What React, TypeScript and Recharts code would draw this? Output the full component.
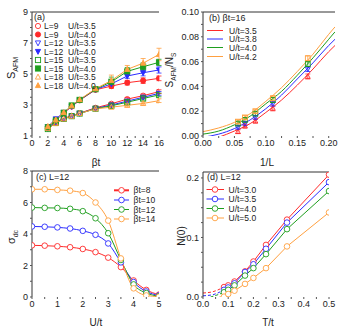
import React from 'react';
import { LineChart, Line, XAxis, YAxis, ReferenceLine, ErrorBar } from 'recharts';

const FONT = "'Liberation Sans', Arial, sans-serif";
const RED = '#ff2a2a';
const BLUE = '#2b2bff';
const GREEN = '#1e9e1e';
const ORANGE = '#ffa040';
const AX = '#333';

// ---------- panel (a) ----------
const betaT = [2, 3, 4, 5, 6, 8, 10, 12, 14, 16];
const aL9U35 = [1.5, 1.88, 2.14, 2.3, 2.47, 2.82, 3.08, 3.38, 3.6, 3.86];
const aL9U40 = [1.58, 2.05, 2.48, 2.9, 3.3, 3.98, 4.22, 4.44, 4.57, 4.72];
const aL12U35 = [1.48, 1.9, 2.12, 2.28, 2.46, 2.78, 3.0, 3.25, 3.5, 3.75];
const aL12U40 = [1.6, 2.1, 2.52, 2.9, 3.32, 4.0, 4.36, 4.87, 5.08, 5.26];
const aL15U35 = [1.45, 1.85, 2.1, 2.28, 2.45, 2.76, 2.95, 3.18, 3.42, 3.65];
const aL15U40 = [1.56, 2.0, 2.5, 2.97, 3.33, 4.02, 4.5, 5.17, 5.47, 5.75];
const aL18U35 = [1.5, 1.8, 2.1, 2.28, 2.46, 2.75, 2.86, 2.98, 3.1, 3.28];
const aL18U40 = [1.62, 2.05, 2.52, 2.95, 3.35, 4.05, 4.58, 5.3, 5.7, 6.26];
const aErrU35 = [0, 0, 0, 0, 0, 0.04, 0.08, 0.1, 0.1, 0.12];
const aErrL9U40 = [0, 0, 0, 0, 0, 0.05, 0.15, 0.15, 0.18, 0.15];
const aErrL12U40 = [0, 0, 0, 0, 0, 0.05, 0.15, 0.15, 0.2, 0.2];
const aErrL15U40 = [0, 0, 0, 0, 0, 0.1, 0.3, 0.25, 0.25, 0.2];
const aErrL18U40 = [0, 0, 0, 0, 0, 0.1, 0.35, 0.25, 0.3, 0.4];
const aXTicks = [0, 1, 2, 3, 4, 5, 6, 7, 8, 9, 10, 11, 12, 13, 14, 15, 16];
const aYTicks = [1, 1.5, 2, 2.5, 3, 3.5, 4, 4.5, 5, 5.5, 6, 6.5, 7, 7.5, 8, 8.5, 9];

// ---------- panel (b) ----------
const invL = [0.0556, 0.0667, 0.0833, 0.1111, 0.1667];
const bU35 = [0.0035, 0.008, 0.012, 0.0223, 0.048];
const bU38 = [0.007, 0.010, 0.015, 0.026, 0.054];
const bU40 = [0.010, 0.013, 0.018, 0.029, 0.058];
const bU42 = [0.0116, 0.015, 0.020, 0.0304, 0.0627];
const bErr = [0.0015, 0.0015, 0.0015, 0.002, 0.002];
const bCurveX = [0, 0.025, 0.05, 0.075, 0.1, 0.125, 0.15, 0.175, 0.2, 0.21];
const bFitU35 = [-0.005, -0.001, 0.004, 0.010, 0.019, 0.029, 0.041, 0.054, 0.068, 0.073];
const bFitU38 = [-0.001, 0.0015, 0.006, 0.013, 0.022, 0.033, 0.046, 0.059, 0.073, 0.078];
const bFitU40 = [0.0015, 0.004, 0.009, 0.016, 0.026, 0.036, 0.049, 0.063, 0.078, 0.084];
const bFitU42 = [0.0035, 0.0065, 0.011, 0.018, 0.028, 0.039, 0.052, 0.066, 0.082, 0.088];
const bXTicks = [0, 0.025, 0.05, 0.075, 0.1, 0.125, 0.15, 0.175, 0.2];
const bYTicks = [0, 0.01, 0.02, 0.03, 0.04, 0.05, 0.06, 0.07, 0.08, 0.09, 0.1];

// ---------- panel (c) ----------
const cU = [0, 0.5, 1, 1.5, 2, 2.5, 3, 3.5, 4, 4.5, 5];
const cB8 = [3.28, 3.26, 3.22, 3.16, 3.05, 2.85, 2.5, 1.9, 1.05, 0.45, 0.15];
const cB10 = [4.48, 4.46, 4.42, 4.35, 4.2, 3.95, 3.4, 2.2, 0.95, 0.35, 0.1];
const cB12 = [5.68, 5.66, 5.65, 5.6, 5.45, 5.0, 4.05, 2.35, 0.8, 0.25, 0.05];
const cB14 = [6.84, 6.84, 6.8, 6.75, 6.6, 6.0, 4.85, 2.45, 0.55, 0.1, 0.02];
const cXTicks = [0, 0.5, 1, 1.5, 2, 2.5, 3, 3.5, 4, 4.5, 5];
const cYTicks = [0, 1, 2, 3, 4, 5, 6, 7, 8];

// ---------- panel (d) ----------
const dT = [0.0833, 0.1, 0.125, 0.1667, 0.2, 0.25, 0.3333, 0.5];
const dU30 = [0.0167, 0.0195, 0.026, 0.043, 0.0596, 0.0875, 0.13, 0.2055];
const dU35 = [0.012, 0.016, 0.023, 0.042, 0.055, 0.081, 0.125, 0.193];
const dU40 = [0.008, 0.012, 0.0195, 0.036, 0.0485, 0.072, 0.114, 0.178];
const dU50 = [0.0006, 0.005, 0.0106, 0.022, 0.032, 0.0485, 0.085, 0.142];
const dExtU30x = [0, 0.04, 0.0833];
const dExtU30y = [0.0067, 0.009, 0.0167];
const dExtU35x = [0, 0.04, 0.0833];
const dExtU35y = [0.002, 0.004, 0.012];
const dExtU40x = [0.03, 0.06, 0.0833];
const dExtU40y = [0, 0.004, 0.008];
const dExtU50x = [0.065, 0.0833];
const dExtU50y = [0, 0.0006];
const dXTicks = [0, 0.05, 0.1, 0.15, 0.2, 0.25, 0.3, 0.35, 0.4, 0.45, 0.5];
const dYTicks = [0, 0.025, 0.05, 0.075, 0.1, 0.125, 0.15, 0.175, 0.2];

const pts = (xs: number[], ys: number[], es?: number[]) =>
  xs.map((x, i) => ({ x, y: ys[i], e: es ? es[i] : 0 }));

function Mark({ shape, x, y, r, color, filled, bg }: any) {
  const fill = filled ? color : bg || 'none';
  const sw = 0.9;
  if (shape === 'circle') return <circle cx={x} cy={y} r={r} fill={fill} stroke={color} strokeWidth={sw} />;
  if (shape === 'square')
    return <rect x={x - r} y={y - r} width={2 * r} height={2 * r} fill={fill} stroke={color} strokeWidth={sw} />;
  if (shape === 'tri')
    return (
      <polygon points={`${x},${y - r * 1.1} ${x - r},${y + r * 0.8} ${x + r},${y + r * 0.8}`} fill={fill} stroke={color} strokeWidth={sw} />
    );
  return (
    <polygon points={`${x},${y + r * 1.1} ${x - r},${y - r * 0.8} ${x + r},${y - r * 0.8}`} fill={fill} stroke={color} strokeWidth={sw} />
  );
}

const makeDot = (shape: string, color: string, filled: boolean, r: number, bg?: string) => (p: any) => {
  const { cx, cy, index } = p;
  if (cx == null || cy == null || isNaN(cx) || isNaN(cy)) return <g key={`n${index}`} />;
  return (
    <g key={`d${index}`}>
      <Mark shape={shape} x={cx} y={cy} r={r} color={color} filled={filled} bg={bg} />
    </g>
  );
};

const tickStyle = { fontSize: 9, fill: '#222', fontFamily: FONT };

function Panel({ left, top, width, height, margin, xDomain, yDomain, xTicks, yTicks, xFmt, yFmt, children }: any) {
  return (
    <div style={{ position: 'absolute', left, top, width, height }}>
      <LineChart width={width} height={height} margin={margin}>
        <XAxis
          type="number"
          dataKey="x"
          domain={xDomain}
          ticks={xTicks}
          interval={0}
          allowDataOverflow
          tickFormatter={xFmt}
          tick={tickStyle}
          tickLine={{ stroke: '#555' }}
          tickSize={2}
          tickMargin={2}
          axisLine={false}
          height={20}
        />
        <YAxis
          type="number"
          dataKey="y"
          domain={yDomain}
          ticks={yTicks}
          interval={0}
          allowDataOverflow
          tickFormatter={yFmt}
          tick={tickStyle}
          tickLine={{ stroke: '#555' }}
          tickSize={2}
          tickMargin={2}
          axisLine={{ stroke: AX }}
          width={margin.yw}
        />
        <ReferenceLine y={yDomain[1]} stroke={AX} />
        {children}
      </LineChart>
    </div>
  );
}

const aSeries = [
  { ys: aL9U35, es: aErrU35, c: RED, s: 'circle', f: false },
  { ys: aL9U40, es: aErrL9U40, c: RED, s: 'circle', f: true },
  { ys: aL12U35, es: aErrU35, c: BLUE, s: 'tridown', f: false },
  { ys: aL12U40, es: aErrL12U40, c: BLUE, s: 'tridown', f: true },
  { ys: aL15U35, es: aErrU35, c: GREEN, s: 'square', f: false },
  { ys: aL15U40, es: aErrL15U40, c: GREEN, s: 'square', f: true },
  { ys: aL18U35, es: aErrU35, c: ORANGE, s: 'tri', f: false },
  { ys: aL18U40, es: aErrL18U40, c: ORANGE, s: 'tri', f: true },
];
const aLegend = ['L=9', 'L=9', 'L=12', 'L=12', 'L=15', 'L=15', 'L=18', 'L=18'];
const aLegendU = ['U/t=3.5', 'U/t=4.0', 'U/t=3.5', 'U/t=4.0', 'U/t=3.5', 'U/t=4.0', 'U/t=3.5', 'U/t=4.0'];

const bSeries = [
  { pts: bU35, fit: bFitU35, c: RED, s: 'tri', label: 'U/t=3.5' },
  { pts: bU38, fit: bFitU38, c: BLUE, s: 'tridown', label: 'U/t=3.8' },
  { pts: bU40, fit: bFitU40, c: GREEN, s: 'square', label: 'U/t=4.0' },
  { pts: bU42, fit: bFitU42, c: ORANGE, s: 'square', label: 'U/t=4.2' },
];

const cSeries = [
  { ys: cB8, c: RED, label: '\u03B2t=8' },
  { ys: cB10, c: BLUE, label: '\u03B2t=10' },
  { ys: cB12, c: GREEN, label: '\u03B2t=12' },
  { ys: cB14, c: ORANGE, label: '\u03B2t=14' },
];

const dSeries = [
  { ys: dU30, ex: dExtU30x, ey: dExtU30y, c: RED, label: 'U/t=3.0' },
  { ys: dU35, ex: dExtU35x, ey: dExtU35y, c: BLUE, label: 'U/t=3.5' },
  { ys: dU40, ex: dExtU40x, ey: dExtU40y, c: GREEN, label: 'U/t=4.0' },
  { ys: dU50, ex: dExtU50x, ey: dExtU50y, c: ORANGE, label: 'U/t=5.0' },
];

export default function App() {
  const aRows = [26, 34.5, 43, 51.5, 60, 68.5, 77, 85.5];
  const bRows = [30.5, 39, 47.5, 56.5];
  const cRows = [190.3, 200, 209.5, 219];
  const dRows = [189.5, 199, 208.5, 218];
  return (
    <div style={{ position: 'absolute', left: 0, top: 0, width: 341, height: 330, background: '#fff', fontFamily: FONT }}>
      {/* (a) */}
      <Panel
        left={0}
        top={0}
        width={170}
        height={165}
        margin={{ top: 12, right: 11, bottom: 9, left: 0, yw: 32 }}
        xDomain={[0, 16]}
        yDomain={[1, 9]}
        xTicks={aXTicks}
        yTicks={aYTicks}
        xFmt={(v: number) => (v % 2 === 0 ? String(v) : '')}
        yFmt={(v: number) => (Number.isInteger(v) && v % 2 === 1 ? String(v) : '')}
      >
        {aSeries.map((s, i) => (
          <Line
            key={`a${i}`}
            data={pts(betaT, s.ys, s.es)}
            dataKey="y"
            type="linear"
            stroke={s.c}
            strokeWidth={1}
            dot={makeDot(s.s, s.c, s.f, 2.6)}
            isAnimationActive={false}
          >
            <ErrorBar dataKey="e" direction="y" width={2.5} stroke={s.c} strokeWidth={0.8} />
          </Line>
        ))}
      </Panel>

      {/* (b) */}
      <Panel
        left={170}
        top={0}
        width={171}
        height={165}
        margin={{ top: 12, right: 6, bottom: 9, left: 0, yw: 33 }}
        xDomain={[0, 0.21]}
        yDomain={[0, 0.1]}
        xTicks={bXTicks}
        yTicks={bYTicks}
        xFmt={(v: number) => (Math.abs(v * 20 - Math.round(v * 20)) < 1e-6 ? v.toFixed(2) : '')}
        yFmt={(v: number) => (Math.abs(v * 50 - Math.round(v * 50)) < 1e-6 ? v.toFixed(2) : '')}
      >
        {bSeries.map((s, i) => (
          <Line
            key={`bf${i}`}
            data={pts(bCurveX, s.fit)}
            dataKey="y"
            type="monotone"
            stroke={s.c}
            strokeWidth={1}
            dot={false}
            isAnimationActive={false}
          />
        ))}
        {bSeries.map((s, i) => (
          <Line
            key={`bp${i}`}
            data={pts(invL, s.pts, bErr)}
            dataKey="y"
            type="linear"
            stroke="none"
            dot={makeDot(s.s, s.c, false, 2.4)}
            isAnimationActive={false}
          >
            <ErrorBar dataKey="e" direction="y" width={2.5} stroke={s.c} strokeWidth={0.8} />
          </Line>
        ))}
      </Panel>

      {/* (c) */}
      <Panel
        left={0}
        top={165}
        width={170}
        height={165}
        margin={{ top: 6, right: 11, bottom: 13, left: 0, yw: 32 }}
        xDomain={[0, 5]}
        yDomain={[0, 8]}
        xTicks={cXTicks}
        yTicks={cYTicks}
        xFmt={(v: number) => (Number.isInteger(v) ? String(v) : '')}
        yFmt={(v: number) => (v % 2 === 0 ? String(v) : '')}
      >
        {cSeries.map((s, i) => (
          <Line
            key={`c${i}`}
            data={pts(cU, s.ys)}
            dataKey="y"
            type="monotone"
            stroke={s.c}
            strokeWidth={1}
            dot={makeDot('circle', s.c, false, 2.8, '#fff')}
            isAnimationActive={false}
          />
        ))}
      </Panel>

      {/* (d) */}
      <Panel
        left={170}
        top={165}
        width={171}
        height={165}
        margin={{ top: 7, right: 12, bottom: 13, left: 0, yw: 33 }}
        xDomain={[0, 0.5]}
        yDomain={[0, 0.21]}
        xTicks={dXTicks}
        yTicks={dYTicks}
        xFmt={(v: number) => (Math.abs(v * 10 - Math.round(v * 10)) < 1e-6 ? v.toFixed(1) : '')}
        yFmt={(v: number) => (Math.abs(v * 10 - Math.round(v * 10)) < 1e-6 ? v.toFixed(1) : '')}
      >
        {dSeries.map((s, i) => (
          <Line
            key={`de${i}`}
            data={pts(s.ex, s.ey)}
            dataKey="y"
            type="monotone"
            stroke={s.c}
            strokeWidth={1}
            strokeDasharray="3 2"
            dot={false}
            isAnimationActive={false}
          />
        ))}
        {dSeries.map((s, i) => (
          <Line
            key={`d${i}`}
            data={pts(dT, s.ys)}
            dataKey="y"
            type="linear"
            stroke={s.c}
            strokeWidth={1}
            dot={makeDot('circle', s.c, false, 2.8, '#fff')}
            isAnimationActive={false}
          />
        ))}
      </Panel>

      {/* overlay texts & legends */}
      <svg width={341} height={330} style={{ position: 'absolute', left: 0, top: 0, pointerEvents: 'none' }} fontFamily={FONT}>
        {/* axis titles */}
        <text transform="translate(15,68) rotate(-90)" textAnchor="middle" fontSize={11} fill="#222">
          S<tspan fontSize={7} dy={3}>AFM</tspan>
        </text>
        <text x={96} y={166} textAnchor="middle" fontSize={10} fill="#222">βt</text>
        <text transform="translate(173,70) rotate(-90)" textAnchor="middle" fontSize={10} fill="#222">
          S<tspan fontSize={6.5} dy={2.5}>AFM</tspan>
          <tspan dy={-2.5}>/N</tspan>
          <tspan fontSize={6.5} dy={2.5}>S</tspan>
        </text>
        <text x={267} y={166} textAnchor="middle" fontSize={10} fill="#222">1/L</text>
        <text transform="translate(15,237) rotate(-90)" textAnchor="middle" fontSize={11} fill="#222">
          σ<tspan fontSize={7} dy={3}>dc</tspan>
        </text>
        <text x={96} y={326} textAnchor="middle" fontSize={10} fill="#222">U/t</text>
        <text transform="translate(185,236) rotate(-90)" textAnchor="middle" fontSize={10} fill="#222">N(0)</text>
        <text x={268} y={326} textAnchor="middle" fontSize={10} fill="#222">T/t</text>

        {/* (a) legend */}
        <text x={34} y={20} fontSize={9} fill="#222">(a)</text>
        {aSeries.map((s, i) => (
          <g key={`la${i}`}>
            <Mark shape={s.s} x={38} y={aRows[i]} r={2.6} color={s.c} filled={s.f} />
            <text x={44} y={aRows[i] + 3} fontSize={8.5} fill="#222">{aLegend[i]}</text>
            <text x={68} y={aRows[i] + 3} fontSize={8.5} fill="#222">{aLegendU[i]}</text>
          </g>
        ))}

        {/* (b) legend */}
        <text x={209} y={21} fontSize={9} fill="#222">(b) βt=16</text>
        {bSeries.map((s, i) => (
          <g key={`lb${i}`}>
            <line x1={207} x2={223} y1={bRows[i]} y2={bRows[i]} stroke={s.c} strokeWidth={1} />
            <text x={229} y={bRows[i] + 3} fontSize={8.5} fill="#222">{s.label}</text>
          </g>
        ))}

        {/* (c) legend */}
        <text x={36} y={180} fontSize={9} fill="#222">(c) L=12</text>
        {cSeries.map((s, i) => (
          <g key={`lc${i}`}>
            <line x1={114} x2={129} y1={cRows[i]} y2={cRows[i]} stroke={s.c} strokeWidth={i === 0 ? 2 : 1} />
            <circle cx={121.5} cy={cRows[i]} r={2.8} fill="#fff" stroke={s.c} strokeWidth={0.9} />
            <text x={133.5} y={cRows[i] + 3} fontSize={8.5} fill="#222">{s.label}</text>
          </g>
        ))}

        {/* (d) legend */}
        <text x={207} y={180} fontSize={9} fill="#222">(d) L=12</text>
        {dSeries.map((s, i) => (
          <g key={`ld${i}`}>
            <line x1={206.5} x2={224} y1={dRows[i]} y2={dRows[i]} stroke={s.c} strokeWidth={1} />
            <circle cx={215} cy={dRows[i]} r={2.8} fill="#fff" stroke={s.c} strokeWidth={0.9} />
            <text x={228.5} y={dRows[i] + 3} fontSize={8.5} fill="#222">{s.label}</text>
          </g>
        ))}
      </svg>
    </div>
  );
}
